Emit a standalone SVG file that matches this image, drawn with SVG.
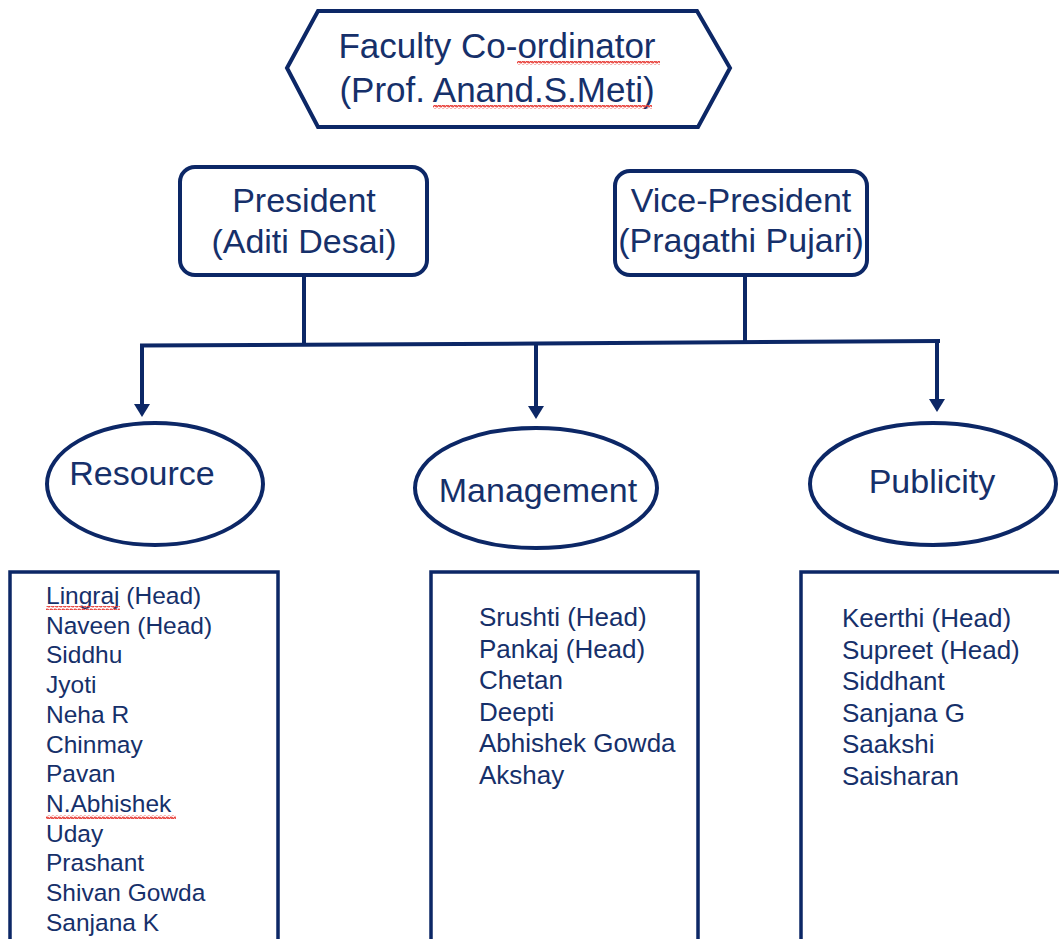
<svg xmlns="http://www.w3.org/2000/svg" width="1059" height="939" viewBox="0 0 1059 939">
<defs>
<style>
.shape{fill:#ffffff;stroke:#0c2766;stroke-width:4;}
.box{fill:#ffffff;stroke:#0c2766;stroke-width:3.5;}
.conn{fill:none;stroke:#0c2766;stroke-width:4;}
.t{font-family:"Liberation Sans",Arial,sans-serif;fill:#16306a;}
.big{font-size:34px;text-anchor:middle;}
.hx{font-size:35px;text-anchor:middle;}
.l1{font-size:24.5px;}
.l2{font-size:26px;}
.sq{fill:none;stroke:#e8403a;stroke-width:1.2;}
</style>
<marker id="ah" markerUnits="userSpaceOnUse" markerWidth="18" markerHeight="14" refX="9" refY="12" orient="auto-start-reverse" viewBox="0 0 18 14">
<path d="M1,0 L17,0 L9,13 Z" fill="#0c2766"/>
</marker>
<pattern id="wave" width="4" height="4" patternUnits="userSpaceOnUse">
<path d="M0,1 L1,3 L3,1 L4,3" class="sq"/>
</pattern>
</defs>
<rect width="1059" height="939" fill="#ffffff"/>

<g id="connectors">
<line class="conn" x1="304" y1="277" x2="304" y2="345"/>
<line class="conn" x1="745" y1="275" x2="745" y2="343"/>
<polyline class="conn" points="140,345.5 538,343.5 940,341"/>
<path class="conn" d="M142,345 L142,404"/>
<path class="conn" d="M536,344 L536,406"/>
<path class="conn" d="M937,341 L937,399"/>
<polygon points="134,404 150,404 142,417" fill="#0c2766"/>
<polygon points="528,406 544,406 536,419" fill="#0c2766"/>
<polygon points="929,399 945,399 937,412" fill="#0c2766"/>
</g>

<g id="faculty">
<polygon class="shape" points="287,68 318,11 697,11 730,68 698,127 318,127"/>
<text class="t hx" x="497" y="58">Faculty Co-ordinator</text>
<text class="t hx" x="497" y="102">(Prof. Anand.S.Meti)</text>
<rect x="517" y="61" width="143" height="4" fill="url(#wave)"/>
<rect x="433" y="105" width="219" height="4" fill="url(#wave)"/>
</g>

<g id="president">
<rect class="shape" x="180" y="167" width="247" height="108" rx="15"/>
<text class="t big" x="304" y="212">President</text>
<text class="t big" x="304" y="253">(Aditi Desai)</text>
</g>

<g id="vice-president">
<rect class="shape" x="615" y="171" width="252" height="104" rx="15"/>
<text class="t big" x="741" y="212">Vice-President</text>
<text class="t big" x="741" y="252">(Pragathi Pujari)</text>
</g>

<g id="resource">
<ellipse class="shape" cx="155" cy="484" rx="108" ry="61"/>
<text class="t big" x="142" y="485">Resource</text>
</g>

<g id="management">
<ellipse class="shape" cx="536" cy="488" rx="121" ry="60"/>
<text class="t big" x="538" y="502">Management</text>
</g>

<g id="publicity">
<ellipse class="shape" cx="933" cy="484" rx="123" ry="61"/>
<text class="t big" x="932" y="493">Publicity</text>
</g>

<g id="resource-list">
<rect class="box" x="10" y="572" width="268" height="380"/>
<text class="t l1" x="46" y="604">Lingraj (Head)</text>
<text class="t l1" x="46" y="633.7">Naveen (Head)</text>
<text class="t l1" x="46" y="663.4">Siddhu</text>
<text class="t l1" x="46" y="693.1">Jyoti</text>
<text class="t l1" x="46" y="722.8">Neha R</text>
<text class="t l1" x="46" y="752.5">Chinmay</text>
<text class="t l1" x="46" y="782.2">Pavan</text>
<text class="t l1" x="46" y="811.9">N.Abhishek</text>
<text class="t l1" x="46" y="841.6">Uday</text>
<text class="t l1" x="46" y="871.3">Prashant</text>
<text class="t l1" x="46" y="901">Shivan Gowda</text>
<text class="t l1" x="46" y="930.7">Sanjana K</text>
<rect x="46" y="606" width="74" height="4" fill="url(#wave)"/>
<rect x="46" y="815" width="130" height="4" fill="url(#wave)"/>
</g>

<g id="management-list">
<rect class="box" x="431" y="572" width="267" height="380"/>
<text class="t l2" x="479" y="626">Srushti (Head)</text>
<text class="t l2" x="479" y="657.5">Pankaj (Head)</text>
<text class="t l2" x="479" y="689">Chetan</text>
<text class="t l2" x="479" y="720.5">Deepti</text>
<text class="t l2" x="479" y="752">Abhishek Gowda</text>
<text class="t l2" x="479" y="783.5">Akshay</text>
</g>

<g id="publicity-list">
<rect class="box" x="801" y="572" width="270" height="380"/>
<text class="t l2" x="842" y="627">Keerthi (Head)</text>
<text class="t l2" x="842" y="658.5">Supreet (Head)</text>
<text class="t l2" x="842" y="690">Siddhant</text>
<text class="t l2" x="842" y="721.5">Sanjana G</text>
<text class="t l2" x="842" y="753">Saakshi</text>
<text class="t l2" x="842" y="784.5">Saisharan</text>
</g>
</svg>
